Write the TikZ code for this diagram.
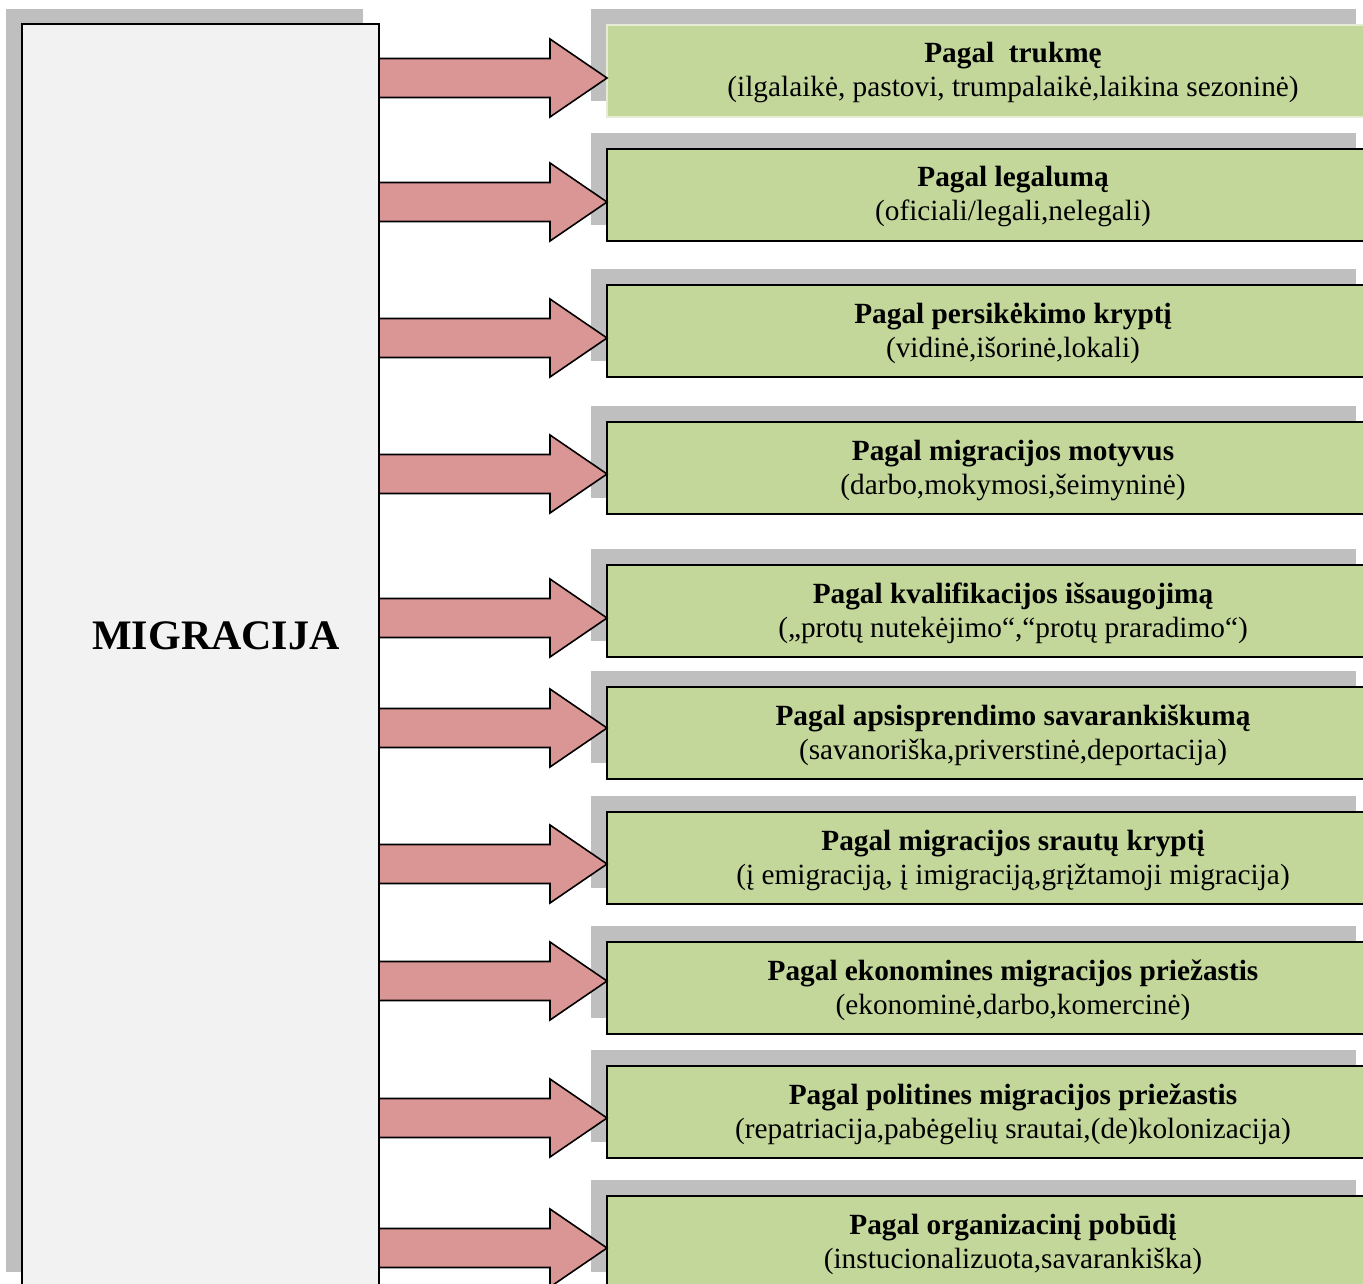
\documentclass[tikz,border=0pt]{standalone}
\usepackage{fontspec}
\setmainfont{Liberation Serif}
\usetikzlibrary{calc}
\definecolor{greenc}{HTML}{C4D79B}
\definecolor{redc}{HTML}{DA9694}
\definecolor{shadowc}{HTML}{BFBFBF}
\definecolor{mainfill}{HTML}{F2F2F2}
\definecolor{lightedge}{HTML}{E4ECD4}
\tikzset{
  gbox/.style={draw=black, fill=greenc, line width=1.5pt, minimum width=765pt, minimum height=92pt, inner sep=0pt, outer sep=0pt},
  arrowc/.style={draw=black, fill=redc, line width=1.6pt, line join=miter},
  ttl/.style={font=\fontsize{29.3}{34}\selectfont\bfseries, inner sep=0pt, anchor=base},
  subt/.style={font=\fontsize{29.3}{34}\selectfont, inner sep=0pt, anchor=base},
}
\newcommand{\catbox}[6]{%
  \fill[shadowc] (591,{#2-16}) rectangle (1356,{#2+76});
  \node[gbox,#6,anchor=north west] (b#1) at (607,#2) {};
  \coordinate (y#1) at (0,#3);
  \coordinate (t#1) at (b#1.west |- y#1);
  \coordinate (s#1) at (m.east |- y#1);
  \draw[arrowc] ($(s#1)+(0,-19.5)$) -- ($(t#1)+(-57,-19.5)$) -- ($(t#1)+(-57,-39)$) -- (t#1) -- ($(t#1)+(-57,39)$) -- ($(t#1)+(-57,19.5)$) -- ($(s#1)+(0,19.5)$) -- cycle;
  \node[ttl] (h#1) at (1013,{#2+38}) {#4};
  \node[subt] (d#1) at (1013,{#2+72}) {#5};
}
\begin{document}
\begin{tikzpicture}[x=1pt,y=-1pt]
\clip (0,0) rectangle (1363,1284);
\fill[white] (0,0) rectangle (1363,1284);
% main box
\fill[shadowc] (6,9) rectangle (363,1272);
\node[draw=black, fill=mainfill, line width=1.5pt, minimum width=357pt, minimum height=1264pt, inner sep=0pt, outer sep=0pt, anchor=north west] (m) at (22,24) {};
\node[font=\fontsize{42}{48}\selectfont\bfseries, inner sep=0pt] (mt) at (216,636) {MIGRACIJA};
\catbox{1}{25}{78}{Pagal\ \ trukmę}{(ilgalaikė, pastovi, trumpalaikė,laikina sezoninė)}{draw=lightedge}
\catbox{2}{149}{202}{Pagal legalumą}{(oficiali/legali,nelegali)}{}
\catbox{3}{285}{338}{Pagal persikėkimo kryptį}{(vidinė,išorinė,lokali)}{}
\catbox{4}{422}{474}{Pagal migracijos motyvus}{(darbo,mokymosi,šeimyninė)}{}
\catbox{5}{565}{618}{Pagal kvalifikacijos išsaugojimą}{(„protų nutekėjimo“,“protų praradimo“)}{}
\catbox{6}{687}{728}{Pagal apsisprendimo savarankiškumą}{(savanoriška,priverstinė,deportacija)}{}
\catbox{7}{812}{864}{Pagal migracijos srautų kryptį}{(į emigraciją, į imigraciją,grįžtamoji migracija)}{}
\catbox{8}{942}{981}{Pagal ekonomines migracijos priežastis}{(ekonominė,darbo,komercinė)}{}
\catbox{9}{1066}{1118}{Pagal politines migracijos priežastis}{(repatriacija,pabėgelių srautai,(de)kolonizacija)}{}
\catbox{10}{1196}{1248}{Pagal organizacinį pobūdį}{(instucionalizuota,savarankiška)}{}
\end{tikzpicture}
\end{document}
